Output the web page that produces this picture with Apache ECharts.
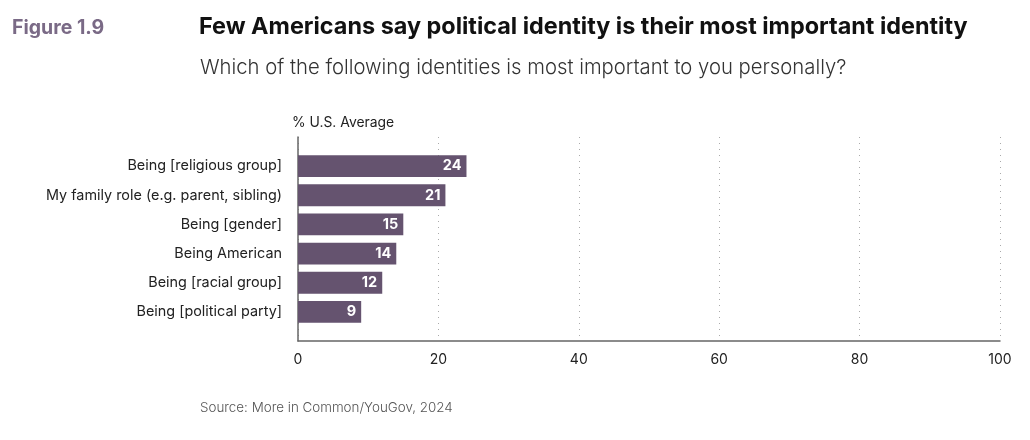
<!DOCTYPE html>
<html><head><meta charset="utf-8">
<script src="https://cdn.jsdelivr.net/npm/echarts@6/dist/echarts.min.js"></script>
<style>html,body{margin:0;padding:0;background:#fff}#c{width:1030px;height:440px}</style>
</head><body><div id="c"></div>
<script>
const categories = ["Being [religious group]","My family role (e.g. parent, sibling)","Being [gender]","Being American","Being [racial group]","Being [political party]"];
const values = [24,21,15,14,12,9];
const xTicks = [0,20,40,60,80,100];

const chart = echarts.init(document.getElementById('c'));
const F = 'Inter, "Open Sans", sans-serif';
chart.setOption({
  backgroundColor:'#fff',
  animation:false,
  title:[
    {text:'Figure 1.9',left:12,top:18,padding:0,textStyle:{fontFamily:F,fontSize:19.5,fontWeight:'bold',color:'#7a6a86'}},
    {text:'Few Americans say political identity is their most important identity',left:199,top:15,padding:0,textStyle:{fontFamily:F,fontSize:23.4,fontWeight:'bold',color:'#111'}},
    {text:'Which of the following identities is most important to you personally?',left:200,top:58,padding:0,textStyle:{fontFamily:F,fontSize:20.3,fontWeight:300,color:'#333'}},
    {text:'% U.S. Average',left:292,top:116,padding:0,textStyle:{fontFamily:F,fontSize:13.9,fontWeight:'normal',color:'#222'}},
    {text:'Source: More in Common/YouGov, 2024',left:200,top:401,padding:0,textStyle:{fontFamily:F,fontSize:13.4,fontWeight:300,color:'#555'}}
  ],
  grid:[
    {left:298,right:30,top:137,bottom:99},
    {left:298,right:30,top:151.5,height:175}
  ],
  xAxis:[
    {gridIndex:0,type:'value',min:0,max:100,interval:20,
     axisLine:{show:true,lineStyle:{color:'#666',width:1.5}},axisTick:{show:false},
     axisLabel:{fontFamily:F,fontSize:14,color:'#222',margin:12,formatter:v=>xTicks.includes(v)?String(v):''},
     splitLine:{show:true,lineStyle:{type:[1,5],color:'#aaa',width:1}}},
    {gridIndex:1,type:'value',min:0,max:100,show:false,splitLine:{show:false}}
  ],
  yAxis:[
    {gridIndex:0,type:'value',min:0,max:1,axisLine:{show:true,lineStyle:{color:'#666',width:1.5}},
     axisTick:{show:false},axisLabel:{show:false},splitLine:{show:false}},
    {gridIndex:1,type:'category',data:categories,inverse:true,
     axisLine:{show:false},axisTick:{show:false},
     axisLabel:{fontFamily:F,fontSize:14.4,color:'#222',margin:16}}
  ],
  series:[{
    type:'bar',xAxisIndex:1,yAxisIndex:1,data:values,barCategoryGap:'25%',
    itemStyle:{color:'#65536f'},
    label:{show:true,position:'insideRight',distance:5,color:'#fff',fontFamily:F,fontSize:14.5,fontWeight:'bold'}
  }]
});
</script></body></html>
